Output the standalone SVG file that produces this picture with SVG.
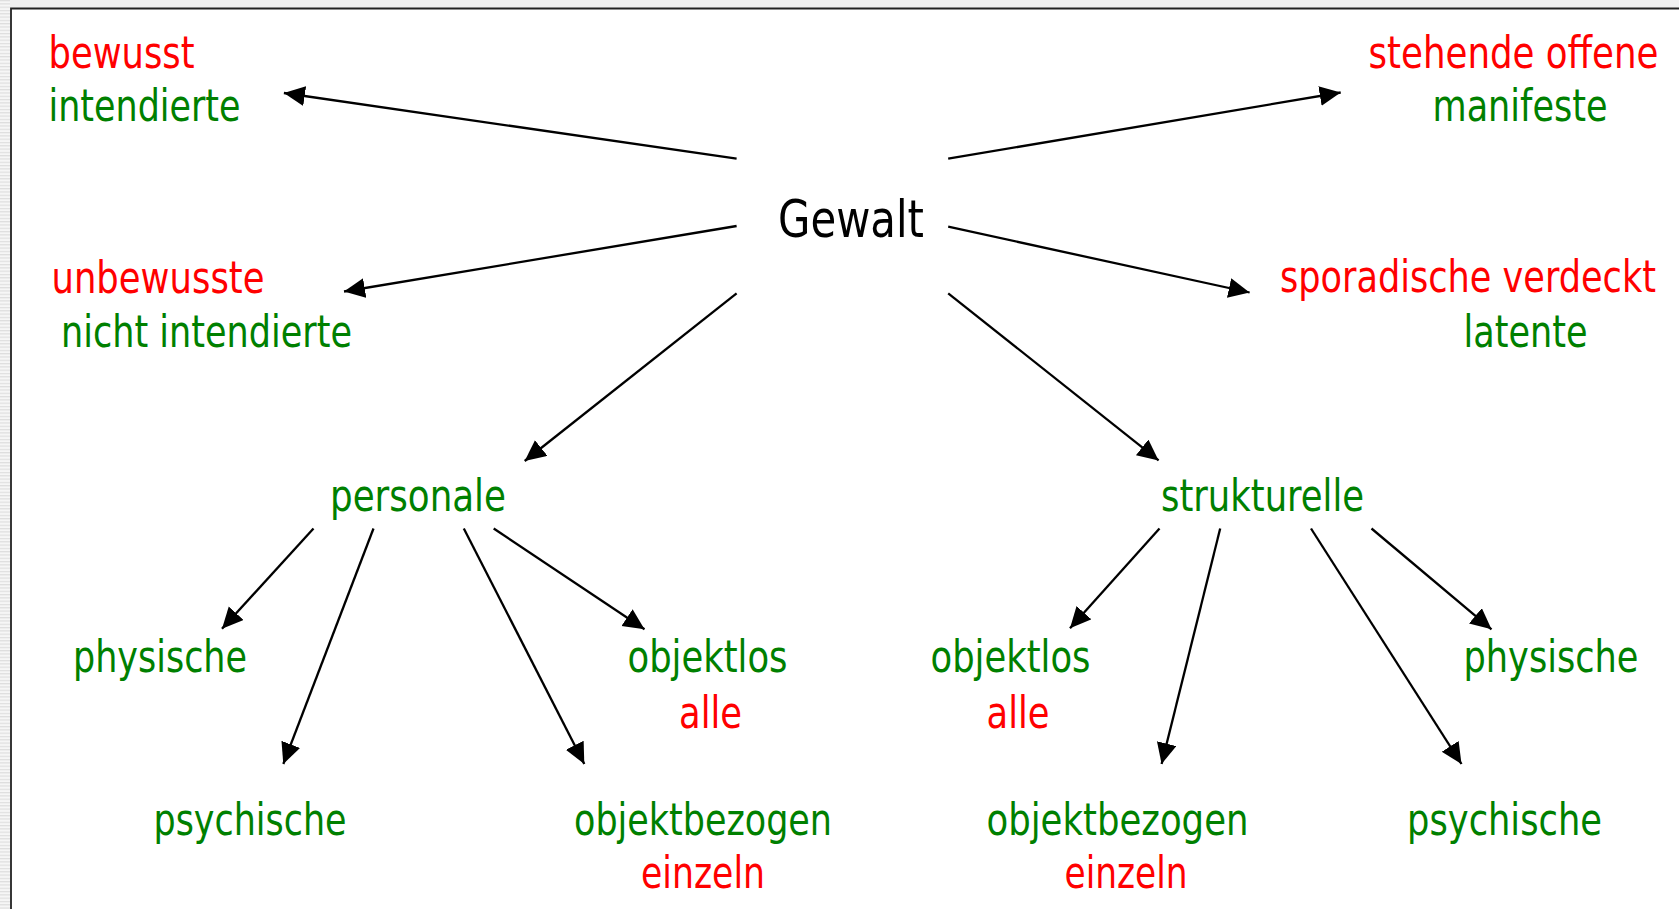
<svg xmlns="http://www.w3.org/2000/svg" width="1679" height="909" viewBox="0 0 1679 909">
  <defs>
    <pattern id="stripes" x="0" y="0" width="11" height="3.3" patternUnits="userSpaceOnUse">
      <rect x="0" y="0" width="11" height="3.3" fill="#f6f6f6"/>
      <rect x="0" y="0" width="11" height="1.2" fill="#dedede"/>
    </pattern>
    <marker id="ah" markerUnits="userSpaceOnUse" markerWidth="22" markerHeight="22" refX="21" refY="10" orient="auto">
      <path d="M0,0 L21,10 L0,20 Z" fill="#000"/>
    </marker>
    <style>
      .t { font-family: "DejaVu Sans Condensed", "DejaVu Sans", sans-serif; font-size: 44px; }
      .n { font-size: 40px; }
      .r { fill: #ff0000; }
      .g { fill: #008000; }
      .k { fill: #000000; font-size: 51px; }
      .c { stroke: #000; stroke-width: 2.3; fill: none; marker-end: url(#ah); }
    </style>
  </defs>
  <rect x="0" y="0" width="1679" height="909" fill="#ffffff"/>
  <rect x="0" y="0" width="1679" height="8" fill="#f0f0f0"/>
  <rect x="0" y="0" width="10" height="909" fill="url(#stripes)"/>
  <path d="M11,909 V8.5 H1679" stroke="#222" stroke-width="1.8" fill="none"/>

  <g id="connectors">
    <line class="c" x1="736.6" y1="158.7" x2="283.9" y2="93"/>
    <line class="c" x1="736.6" y1="226" x2="344" y2="291.5"/>
    <line class="c" x1="736.6" y1="293.3" x2="524.7" y2="461"/>
    <line class="c" x1="948.2" y1="158.7" x2="1340.7" y2="92.5"/>
    <line class="c" x1="948.2" y1="226.7" x2="1249.6" y2="292.5"/>
    <line class="c" x1="948.2" y1="293.3" x2="1158.6" y2="460.4"/>
    <line class="c" x1="313.5" y1="528.5" x2="222" y2="628.8"/>
    <line class="c" x1="373.5" y1="528.5" x2="283.3" y2="764"/>
    <line class="c" x1="463.8" y1="528.5" x2="584.3" y2="764"/>
    <line class="c" x1="493.7" y1="528.5" x2="644.5" y2="629.3"/>
    <line class="c" x1="1159.5" y1="528.5" x2="1070" y2="628.3"/>
    <line class="c" x1="1220.2" y1="528.5" x2="1161.6" y2="764"/>
    <line class="c" x1="1311" y1="528.5" x2="1461.5" y2="764"/>
    <line class="c" x1="1371.5" y1="528.5" x2="1491.5" y2="629.3"/>
  </g>

  <g id="gewalt">
    <text class="t k" x="778" y="237" textLength="146" lengthAdjust="spacingAndGlyphs">Gewalt</text>
  </g>
  <g id="bewusst">
    <text class="t r" x="48.5" y="68" textLength="146" lengthAdjust="spacingAndGlyphs">bewusst</text>
    <text class="t g" x="48.5" y="121.3" textLength="192" lengthAdjust="spacingAndGlyphs">intendierte</text>
  </g>
  <g id="unbewusste">
    <text class="t r" x="51.5" y="292.7" textLength="213" lengthAdjust="spacingAndGlyphs">unbewusste</text>
    <text class="t g" x="61" y="346.7" textLength="291" lengthAdjust="spacingAndGlyphs">nicht intendierte</text>
  </g>
  <g id="stehende">
    <text class="t n r" x="1368.5" y="68.3" transform="matrix(1 0 0 1.1 0 -6.83)" textLength="290" lengthAdjust="spacingAndGlyphs">stehende offene</text>
    <text class="t g" x="1432.5" y="120.7" textLength="175" lengthAdjust="spacingAndGlyphs">manifeste</text>
  </g>
  <g id="sporadische">
    <text class="t n r" x="1280" y="291.7" transform="matrix(1 0 0 1.1 0 -29.17)" textLength="376" lengthAdjust="spacingAndGlyphs">sporadische verdeckt</text>
    <text class="t g" x="1463.5" y="346.7" textLength="124" lengthAdjust="spacingAndGlyphs">latente</text>
  </g>
  <g id="personale">
    <text class="t g" x="330" y="511" textLength="176" lengthAdjust="spacingAndGlyphs">personale</text>
  </g>
  <g id="strukturelle">
    <text class="t g" x="1161" y="511" textLength="203" lengthAdjust="spacingAndGlyphs">strukturelle</text>
  </g>
  <g id="p-physische">
    <text class="t g" x="73" y="672" textLength="174" lengthAdjust="spacingAndGlyphs">physische</text>
  </g>
  <g id="p-psychische">
    <text class="t g" x="153.5" y="835.3" textLength="193" lengthAdjust="spacingAndGlyphs">psychische</text>
  </g>
  <g id="p-objektlos">
    <text class="t g" x="627.5" y="672" textLength="160" lengthAdjust="spacingAndGlyphs">objektlos</text>
    <text class="t r" x="679" y="727.5" textLength="63" lengthAdjust="spacingAndGlyphs">alle</text>
  </g>
  <g id="p-objektbezogen">
    <text class="t g" x="574" y="835.3" textLength="258" lengthAdjust="spacingAndGlyphs">objektbezogen</text>
    <text class="t r" x="641" y="887.7" textLength="124" lengthAdjust="spacingAndGlyphs">einzeln</text>
  </g>
  <g id="s-objektlos">
    <text class="t g" x="930.5" y="672" textLength="160" lengthAdjust="spacingAndGlyphs">objektlos</text>
    <text class="t r" x="986.5" y="727.5" textLength="63" lengthAdjust="spacingAndGlyphs">alle</text>
  </g>
  <g id="s-objektbezogen">
    <text class="t g" x="986.5" y="835.3" textLength="262" lengthAdjust="spacingAndGlyphs">objektbezogen</text>
    <text class="t r" x="1064.5" y="887.7" textLength="123" lengthAdjust="spacingAndGlyphs">einzeln</text>
  </g>
  <g id="s-physische">
    <text class="t g" x="1463.5" y="672" textLength="175" lengthAdjust="spacingAndGlyphs">physische</text>
  </g>
  <g id="s-psychische">
    <text class="t g" x="1407" y="835.3" textLength="195" lengthAdjust="spacingAndGlyphs">psychische</text>
  </g>
</svg>
